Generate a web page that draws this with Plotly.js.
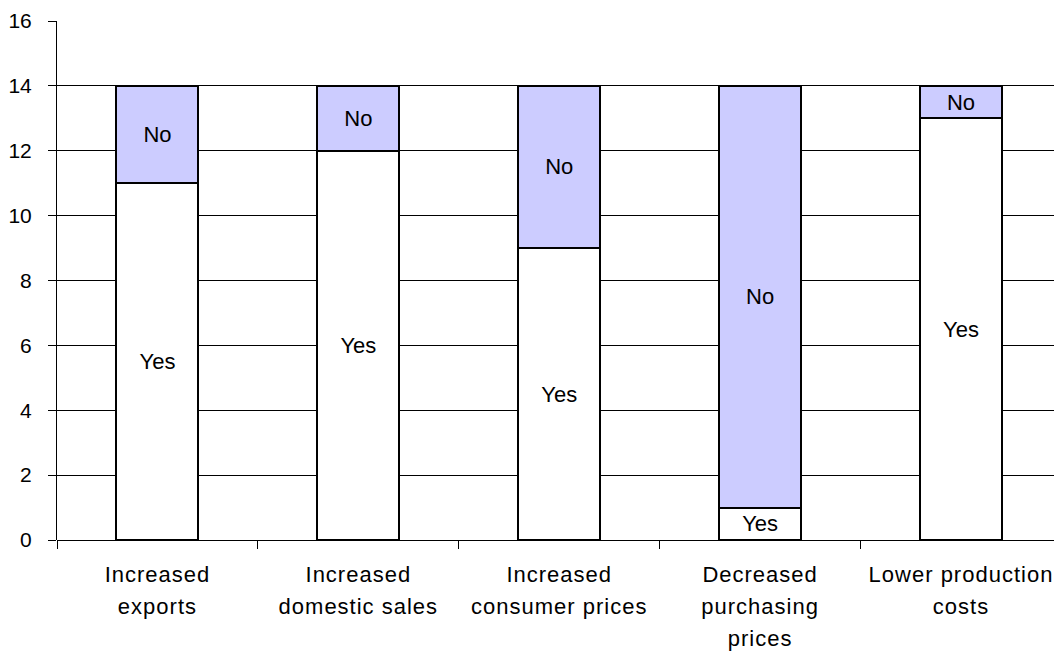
<!DOCTYPE html>
<html>
<head>
<meta charset="utf-8">
<script src="https://cdn.plot.ly/plotly-3.0.1.min.js"></script>
<style>
html,body{margin:0;padding:0;background:#fff;}
#chart{width:1054px;height:652px;}
#chart .xtick text{letter-spacing:1px;}
</style>
</head>
<body>
<div id="chart"></div>
<script>
const categories = ["Increased exports", "Increased domestic sales", "Increased consumer prices", "Decreased purchasing prices", "Lower production costs"];
const tickLabels = ["Increased<br>exports", "Increased<br>domestic sales", "Increased<br>consumer prices", "Decreased<br>purchasing<br>prices", "Lower production<br>costs"];
const yesValues = [11, 12, 9, 1, 13];
const noValues = [3, 2, 5, 13, 1];
const yTicks = [0, 2, 4, 6, 8, 10, 12, 14, 16];

const FONT = "Liberation Sans, Arial, sans-serif";
const traces = [
  {
    type: "bar", name: "Yes", x: categories, y: yesValues,
    text: yesValues.map(() => "Yes"), textposition: "inside", insidetextanchor: "middle",
    textangle: 0, constraintext: "none", hoverinfo: "none",
    textfont: {family: FONT, size: 22, color: "#000"},
    marker: {color: "#ffffff", line: {color: "#000", width: 2}}
  },
  {
    type: "bar", name: "No", x: categories, y: noValues,
    text: noValues.map(() => "No"), textposition: "inside", insidetextanchor: "middle",
    textangle: 0, constraintext: "none", hoverinfo: "none",
    textfont: {family: FONT, size: 22, color: "#000"},
    marker: {color: "#ccccff", line: {color: "#000", width: 2}}
  }
];

const layout = {
  width: 1054, height: 652,
  margin: {l: 56.5, r: 0, t: 21, b: 112, pad: 0},
  paper_bgcolor: "#fff", plot_bgcolor: "#fff",
  barmode: "stack", bargap: 0.592,
  showlegend: false,
  font: {family: FONT, size: 21, color: "#000"},
  uniformtext: {mode: "show", minsize: 22},
  xaxis: {
    type: "category", range: [-0.5, 4.463],
    tickmode: "array", tickvals: categories, ticktext: tickLabels,
    ticks: "outside", tickson: "boundaries", ticklen: 8, tickcolor: "#000", tickwidth: 1,
    showgrid: false, showline: false, zeroline: false,
    ticklabelstandoff: 19,
    tickfont: {family: FONT, size: 22, color: "#000"}
  },
  yaxis: {
    range: [0, 16], tickmode: "array", tickvals: yTicks,
    ticks: "outside", ticklen: 8, tickcolor: "#000", tickwidth: 1,
    showgrid: true, gridcolor: "#000", gridwidth: 1,
    zeroline: true, zerolinecolor: "#000", zerolinewidth: 1,
    showline: true, linecolor: "#000", linewidth: 1,
    ticklabelstandoff: 12,
    tickfont: {family: FONT, size: 21, color: "#000"}
  }
};

Plotly.newPlot("chart", traces, layout, {staticPlot: true, displayModeBar: false}).then(function (gd) {
  gd.querySelectorAll(".xtick text tspan.line").forEach(function (t) {
    const dy = parseFloat(t.getAttribute("dy"));
    if (dy) t.setAttribute("dy", (dy / 1.3 * 1.45) + "em");
  });
});
</script>
</body>
</html>
